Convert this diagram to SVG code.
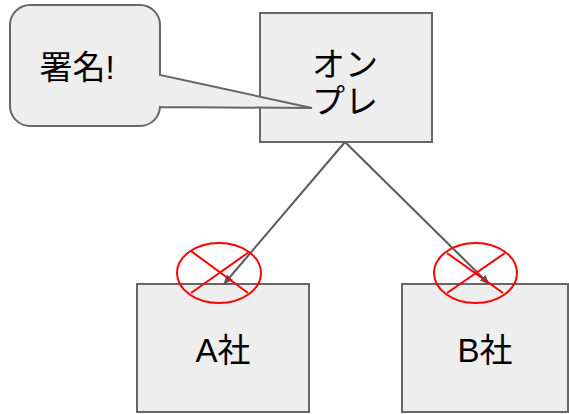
<svg xmlns="http://www.w3.org/2000/svg" width="569" height="414" viewBox="0 0 569 414">
<defs>
<style>
.box{fill:#eeeeee;stroke:#666666;stroke-width:2}
.t{font-family:"Liberation Sans","Noto Sans CJK JP",sans-serif;font-size:33px;fill:#000;text-anchor:middle}
.ln{stroke:#595959;stroke-width:2;fill:none}
.x{stroke:#ff0000;stroke-width:2;fill:none}
</style>
<marker id="ah" viewBox="0 0 10 10" refX="9" refY="5" markerWidth="5" markerHeight="5" orient="auto" markerUnits="strokeWidth">
<path d="M0,1 L10,5 L0,9 Z" fill="#595959"/>
</marker>
</defs>
<rect width="569" height="414" fill="#fff"/>
<g id="onpre">
<rect class="box" x="260" y="13" width="172" height="129"/>
<text class="t" x="345" y="76">オン</text>
<text class="t" x="345" y="113">プレ</text>
</g>
<g id="callout">
<path class="box" d="M30,5 H140 A20,20 0 0 1 160,25 V75 L312,108 L160,107 V106 A20,20 0 0 1 140,126 H30 A20,20 0 0 1 10,106 V25 A20,20 0 0 1 30,5 Z"/>
<text class="t" x="77" y="79">署名!</text>
</g>
<g id="a">
<rect class="box" x="137" y="284" width="172" height="128"/>
<text class="t" x="223" y="362">A社</text>
</g>
<g id="b">
<rect class="box" x="402" y="284" width="166" height="128"/>
<text class="t" x="485" y="362">B社</text>
</g>
<g id="connectors">
<line class="ln" x1="345" y1="142" x2="224" y2="284" marker-end="url(#ah)"/>
<line class="ln" x1="345" y1="142" x2="489" y2="284" marker-end="url(#ah)"/>
</g>
<g id="crosses">
<ellipse class="x" cx="219" cy="273" rx="42" ry="30"/>
<line class="x" x1="191" y1="251" x2="248" y2="293"/>
<line class="x" x1="249" y1="252" x2="191" y2="293"/>
<ellipse class="x" cx="475.5" cy="273" rx="41.5" ry="30"/>
<line class="x" x1="447" y1="253" x2="503" y2="293"/>
<line class="x" x1="505" y1="253" x2="447" y2="293"/>
</g>
</svg>
